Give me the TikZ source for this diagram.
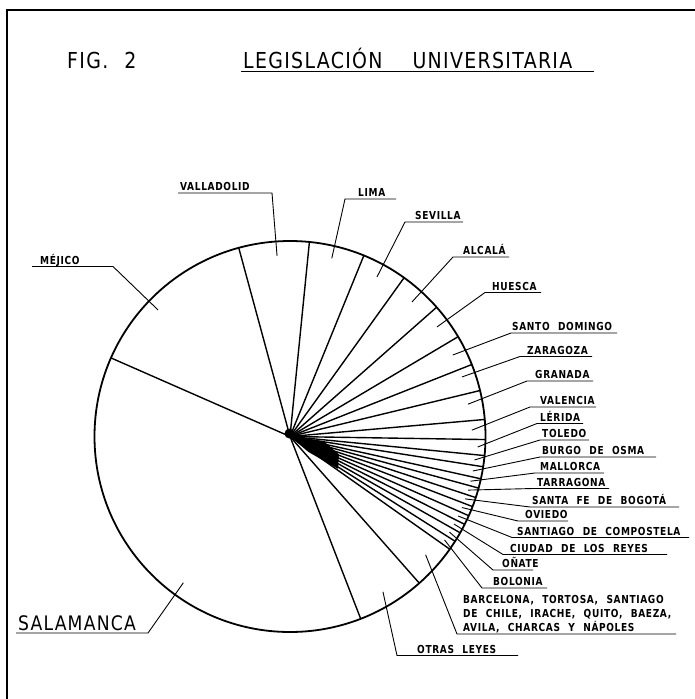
\documentclass[tikz,border=0pt]{standalone}
\usepackage{fontspec}
\newfontfamily\labf[FakeStretch=0.86,LetterSpace=6,WordSpace=2.2]{DejaVu Sans}
\newfontfamily\labb[FakeStretch=0.82,LetterSpace=6,WordSpace=2.2]{DejaVu Sans Bold}
\usetikzlibrary{calc}
\begin{document}
\begin{tikzpicture}[x=1pt,y=-1pt,
  lab/.style={font=\labb\fontsize{11}{13}\selectfont, anchor=base west, inner sep=0pt},
  big/.style={font=\labf\fontsize{20}{22}\selectfont, anchor=base west, inner sep=0pt},
  ttl/.style={font=\labf\fontsize{22}{24}\selectfont, anchor=base west, inner sep=0pt},
  frame/.style={line width=1.2pt},
  rim/.style={line width=1.8pt},
  bound/.style={line width=1.4pt},
  leader/.style={line width=0.9pt}]
\useasboundingbox (0,0) rectangle (695,699);
\fill[white] (0,0) rectangle (695,699);
% frame
\coordinate (F0) at (695,10);
\coordinate (F1) at (7,10);
\coordinate (F2) at (7,699);
\draw[frame] (F0) -- (F1) -- (F2);
% title
\node[ttl] (fig) at (67,68) {FIG. 2};
\node[ttl] (title) at (243,68) {LEGISLACIÓN\hspace{30pt}UNIVERSITARIA};
\coordinate (TU0) at (241,71);
\coordinate (TU1) at (594,71);
\draw[leader] (TU0) -- (TU1);
% pie
\coordinate (C) at (290,436.5);
\draw[rim] (C) circle[radius=195.5pt];
\foreach \a in {156.3,105.2,84.3,67.8,54.3,41.4,30.7,21.6,13.6,5.0,-0.9,-5.6,-8.9,-12.5,-15.3,-18.2,-21.0,-23.9,-26.7,-29.5,-32.4,-35.2,-48.6,-68.8}
  \draw[bound] (C) -- ($(C)+(\a:195.5pt)$);
% dense hub where the thin sectors meet
\fill ($(C)+(100:3pt)$) circle[radius=5pt];
\fill (C) -- ($(C)+(-8:34pt)$) -- ($(C)+(-20:52pt)$) -- ($(C)+(-34:58pt)$) -- ($(C)+(-40:24pt)$) -- cycle;
% labels with leaders
\foreach \ang/\rr/\cx/\uy/\ex/\tx/\txt [count=\i] in {
  136.2/182.7/113/266.5/32/40/MÉJICO,
  94.1/181/272/193/178/180/VALLADOLID,
  76.8/183/345/199/396/358/LIMA,
  61.4/181.7/405/222/463/415/SEVILLA,
  47.8/181.6/453/257/509/463/ALCALÁ,
  36.7/183.3/485/292.5/541/492/HUESCA,
  26.6/182/511/333/617/512/SANTO DOMINGO,
  19.1/182/520/356.5/592/527/ZARAGOZA,
  10.3/181/527/381/593/535/GRANADA,
  2.0/182/530/407/596/540/VALENCIA,
  -3.2/188/537/423.5/583/540/LÉRIDA,
  -7.25/186/540/440/589/542/TOLEDO,
  -10.7/186/540/457/656/542/BURGO DE OSMA,
  -13.9/186/535/473/604/540/MALLORCA,
  -16.75/186/533/488.5/609/537/TARRAGONA,
  -19.6/186/530/507/679/532/SANTA FE DE BOGOTÁ,
  -22.45/186/518/521/568/525/OVIEDO,
  -25.3/186/512/537.5/689/517/SANTIAGO DE COMPOSTELA,
  -28.1/186/503/554.5/667/510/CIUDAD DE LOS REYES,
  -30.95/186/493/570/533/502/OÑATE,
  -33.8/186/482/588/547/493/BOLONIA,
  -59.1/181/397/655.5/518/417/OTRAS LEYES}
{
  \coordinate (t\i) at ($(C)+(\ang:\rr pt)$);
  \coordinate (k\i) at (\cx,\uy);
  \coordinate (e\i) at (\ex,\uy);
  \node[lab] (n\i) at (\tx,\uy-2.2) {\txt};
  \draw[leader] (t\i) -- (k\i) -- (e\i);
}
% Barcelona group
\coordinate (tB) at ($(C)+(-41.1:180pt)$);
\coordinate (kB) at (457,634);
\coordinate (eB) at (676,634);
\node[lab] (nB1) at (463,603.5) {BARCELONA, TORTOSA, SANTIAGO};
\node[lab] (nB2) at (463,617) {DE CHILE, IRACHE, QUITO, BAEZA,};
\node[lab] (nB3) at (463,631.5) {AVILA, CHARCAS Y NÁPOLES};
\draw[leader] (tB) -- (kB) -- (eB);
% Salamanca
\coordinate (tS) at ($(C)+(233.9:181pt)$);
\coordinate (kS) at (148,633);
\coordinate (eS) at (16,633);
\node[big] (nS) at (18,630.5) {SALAMANCA};
\draw[leader] (tS) -- (kS) -- (eS);
\end{tikzpicture}
\end{document}
